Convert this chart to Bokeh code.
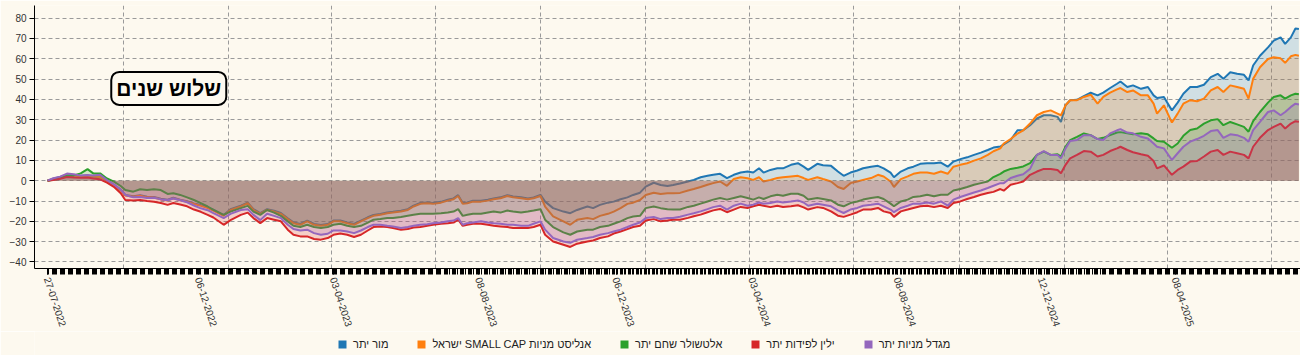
import pandas as pd
from bokeh.plotting import figure
from bokeh.layouts import column
from bokeh.models import (Range1d, FixedTicker, DatetimeTickFormatter, Legend, LegendItem, Label)
from bokeh.embed import file_html
from bokeh.resources import INLINE

START = "2022-07-27"
day_offset = [0, 5, 11, 17, 23, 29, 35, 40, 46, 52, 58, 64, 68, 75, 81, 87, 93, 99, 105, 110,
              116, 122, 128, 134, 140, 145, 154, 160, 169, 175, 180, 186, 192, 198, 204, 210, 215, 221, 227, 233,
              239, 245, 250, 256, 262, 268, 274, 280, 285, 291, 297, 302, 309, 315, 320, 326, 332, 337, 344, 350,
              355, 359, 363, 367, 372, 379, 385, 390, 396, 402, 407, 414, 420, 425, 431, 435, 442, 451, 457, 463,
              472, 477, 483, 490, 495, 501, 507, 512, 518, 523, 530, 536, 542, 547, 553, 560, 565, 571, 577, 582,
              588, 594, 600, 606, 612, 617, 622, 626, 632, 638, 643, 650, 656, 661, 665, 673, 678, 685, 691, 696,
              702, 708, 713, 720, 726, 731, 737, 740, 746, 752, 757, 763, 769, 775, 781, 787, 792, 798, 804, 810,
              816, 822, 827, 833, 836, 842, 848, 853, 859, 865, 871, 877, 883, 886, 890, 894, 900, 906, 912, 918,
              923, 929, 935, 938, 944, 949, 956, 962, 967, 970, 976, 983, 988, 993, 999, 1005, 1011, 1017, 1023, 1028,
              1034, 1040, 1046, 1050, 1054, 1060, 1067, 1072, 1078, 1082, 1087, 1091, 1094]

mor = [0, 1.0, 1.8, 2.6, 2.8, 2.3, 2.5, 2.0, 2.0, 0.2, -2.0, -4.4, -7.0, -7.6, -7.1, -7.9, -8.0, -8.9, -9.4, -8.4,
       -9.3, -10.1, -11.2, -12.0, -13.1, -14.3, -16.9, -14.0, -12.3, -10.8, -14.0, -15.9, -14.0, -14.8, -15.9, -18.5, -20.5, -21.3, -19.6, -21.3,
       -21.8, -21.3, -19.6, -19.6, -20.5, -21.3, -19.6, -18.0, -16.9, -16.4, -15.6, -15.3, -14.8, -14.0, -12.3, -11.0, -10.7, -11.0, -10.4, -9.4,
       -8.7, -7.1, -11.0, -10.7, -9.9, -9.9, -9.4, -8.7, -8.2, -7.1, -7.8, -8.2, -8.7, -8.2, -7.0, -10.3, -13.5, -15.2, -16.0, -14.4,
       -12.7, -13.5, -11.9, -10.8, -10.3, -9.1, -8.2, -7.0, -5.9, -2.9, -1.0, -2.1, -2.6, -2.1, -1.4, -0.4, 0.4, 1.7, 2.4, 2.9,
       3.4, 1.3, 2.9, 4.0, 4.5, 4.0, 6.1, 4.0, 5.3, 6.1, 6.1, 7.8, 8.6, 6.9, 5.3, 8.3, 7.6, 7.3, 4.5, 2.4,
       4.0, 5.0, 6.1, 6.9, 7.3, 6.1, 4.0, 1.7, 4.5, 6.1, 6.9, 8.3, 8.6, 8.6, 8.9, 6.9, 9.4, 10.6, 11.5, 12.7,
       13.8, 15.1, 16.3, 16.8, 17.9, 20.0, 24.8, 24.8, 27.3, 30.6, 32.2, 32.2, 31.4, 28.9, 37.1, 39.6, 39.8, 41.6, 43.3, 42.0,
       43.3, 45.6, 47.7, 48.8, 46.1, 46.9, 45.2, 46.1, 42.0, 40.7, 41.2, 34.6, 38.4, 42.8, 46.1, 46.1, 47.2, 51.0, 52.6, 50.1,
       53.4, 52.6, 52.1, 49.3, 56.7, 61.5, 65.6, 68.9, 70.5, 67.3, 70.5, 74.9, 74.6]

analyst = [0, 0.8, 1.6, 2.4, 2.6, 2.2, 2.4, 1.9, 1.8, 0.0, -2.2, -4.8, -7.3, -7.9, -7.4, -8.2, -8.3, -9.2, -9.7, -8.7,
           -9.6, -10.4, -11.5, -12.4, -13.5, -14.7, -17.3, -14.4, -12.7, -11.1, -14.4, -16.3, -14.4, -15.2, -16.3, -18.9, -20.9, -21.7, -20.0, -21.7,
           -22.2, -21.7, -20.0, -20.0, -20.9, -21.7, -20.0, -18.4, -17.3, -16.8, -16.0, -15.7, -15.2, -14.4, -12.7, -11.4, -11.1, -11.4, -10.8, -9.8,
           -9.1, -7.5, -11.4, -11.1, -10.3, -10.3, -9.8, -9.1, -8.6, -7.5, -8.2, -8.6, -9.1, -8.6, -7.5, -12.7, -17.6, -20.0, -21.7, -19.2,
           -18.4, -18.9, -17.3, -16.3, -15.2, -13.5, -11.4, -10.8, -9.5, -7.0, -5.9, -6.5, -6.2, -6.2, -6.0, -4.8, -4.1, -3.1, -2.0, -1.2,
           -0.4, -2.5, 0.8, 1.7, 1.2, 0.4, 1.7, -0.4, 0.4, 1.3, 1.7, 2.1, 2.4, 1.3, 0.4, 1.7, 0.8, -0.4, -3.1, -4.1,
           -1.2, -0.4, 0.4, 1.3, 2.9, 2.1, -0.4, -3.1, 0.8, 2.1, 3.4, 4.0, 4.0, 3.4, 4.5, 3.4, 6.9, 7.8, 8.6, 9.9,
           11.0, 12.7, 14.5, 15.9, 18.3, 20.5, 23.2, 24.8, 28.1, 32.2, 33.8, 34.6, 33.0, 32.2, 37.1, 39.6, 39.6, 41.2, 42.3, 37.9,
           41.2, 43.3, 44.9, 45.6, 43.6, 44.4, 42.0, 42.0, 37.9, 33.0, 37.1, 28.6, 33.0, 37.9, 39.6, 39.1, 40.4, 44.4, 46.1, 43.6,
           46.9, 46.1, 45.2, 40.4, 50.1, 55.8, 59.9, 60.7, 60.2, 58.0, 61.2, 61.9, 61.5]

altshuler = [0, 0.5, 1.2, 2.5, 2.6, 3.6, 5.7, 3.6, 3.6, 1.1, -0.5, -2.6, -4.6, -5.4, -4.2, -4.6, -4.2, -4.6, -6.5, -6.2,
             -7.0, -8.2, -9.5, -11.0, -12.7, -14.4, -16.8, -15.2, -13.5, -12.4, -15.2, -16.8, -14.4, -15.7, -17.3, -20.0, -22.2, -22.8, -21.7, -22.8,
             -23.3, -22.8, -21.7, -21.2, -22.2, -22.8, -22.2, -20.6, -19.2, -18.9, -18.4, -18.4, -17.9, -17.3, -16.8, -16.3, -16.3, -16.3, -16.0, -15.7,
             -15.2, -14.0, -17.3, -16.8, -16.3, -16.3, -15.7, -15.2, -15.7, -14.7, -15.2, -15.7, -15.2, -14.7, -14.0, -19.2, -22.8, -25.4, -26.6, -25.0,
             -24.1, -24.1, -22.8, -22.2, -21.2, -20.0, -18.4, -17.6, -17.3, -13.5, -12.7, -13.5, -14.0, -14.2, -14.2, -12.9, -12.3, -11.3, -10.2, -9.3,
             -8.5, -9.3, -8.5, -7.7, -8.5, -9.3, -8.2, -9.0, -7.7, -6.9, -7.4, -6.4, -6.4, -7.4, -9.3, -8.5, -9.0, -9.7, -11.8, -12.6,
             -11.0, -10.2, -9.3, -8.5, -8.0, -9.0, -11.3, -12.6, -10.2, -9.3, -8.0, -7.7, -6.9, -7.7, -6.9, -6.9, -4.8, -4.1, -3.1, -2.0,
             -1.2, -0.4, 1.8, 3.4, 4.5, 5.8, 6.4, 7.0, 8.6, 12.7, 14.3, 12.7, 13.0, 11.9, 16.7, 20.0, 21.6, 23.3, 22.4, 20.5,
             21.1, 22.4, 23.7, 23.9, 23.3, 22.8, 23.3, 22.8, 20.8, 19.5, 19.2, 16.2, 18.3, 22.1, 24.9, 25.7, 28.1, 29.7, 30.3, 27.3,
             28.9, 27.7, 26.5, 24.1, 29.3, 33.8, 38.4, 41.2, 42.0, 40.4, 42.0, 42.8, 42.5]

yelin = [0, 0.3, 1.0, 1.8, 1.6, 1.5, 1.6, 1.1, 0.7, -1.0, -3.0, -6.2, -9.5, -9.8, -9.5, -10.0, -10.4, -11.0, -11.9, -11.0,
         -11.7, -12.6, -14.2, -15.3, -16.8, -18.1, -21.7, -19.4, -16.8, -15.7, -18.4, -20.9, -18.4, -19.2, -20.0, -24.1, -26.6, -27.4, -27.4, -28.7,
         -29.0, -28.2, -26.6, -26.0, -26.6, -27.7, -26.6, -24.5, -22.8, -22.5, -22.8, -23.3, -24.1, -23.8, -23.0, -22.8, -22.2, -21.7, -21.2, -20.9,
         -20.6, -19.2, -22.2, -21.7, -21.2, -21.2, -21.7, -22.2, -22.5, -22.8, -23.3, -23.3, -23.3, -22.8, -21.7, -26.6, -29.9, -31.5, -32.6, -31.0,
         -29.9, -29.4, -28.2, -27.4, -26.0, -25.0, -23.8, -22.8, -22.2, -19.6, -18.9, -20.0, -19.6, -19.2, -19.2, -18.3, -17.5, -16.7, -15.5, -14.6,
         -13.9, -15.5, -14.2, -12.9, -13.4, -12.6, -11.8, -12.3, -13.0, -12.3, -12.9, -12.6, -12.1, -13.1, -14.2, -13.0, -13.4, -15.1, -17.2, -17.8,
         -16.7, -15.5, -14.2, -14.2, -13.4, -15.1, -15.9, -17.8, -15.1, -14.2, -13.4, -12.6, -12.3, -13.0, -12.3, -13.4, -11.0, -10.2, -9.0, -8.0,
         -6.9, -6.1, -5.5, -4.1, -4.9, -2.0, -1.2, -0.4, 2.9, 4.5, 5.8, 5.8, 5.3, 3.7, 7.8, 11.0, 12.7, 14.6, 14.3, 11.9,
         12.7, 14.6, 15.9, 16.7, 15.1, 14.0, 13.0, 12.3, 9.7, 6.1, 7.5, 2.9, 5.3, 6.9, 9.4, 9.7, 11.9, 14.3, 15.1, 12.7,
         14.3, 13.5, 12.7, 11.0, 16.7, 21.1, 24.9, 26.5, 28.1, 25.7, 28.1, 29.3, 29.0]

migdal = [0, 1.2, 2.0, 3.5, 3.2, 2.5, 2.8, 2.6, 2.9, 0.3, -1.8, -4.5, -7.0, -8.2, -8.0, -8.5, -8.4, -9.2, -9.6, -8.8,
          -9.6, -10.6, -12.2, -13.6, -14.5, -16.0, -18.4, -16.3, -14.4, -14.0, -16.8, -19.4, -16.3, -17.3, -18.4, -21.7, -23.8, -24.5, -24.1, -25.8,
          -26.6, -26.1, -24.5, -24.5, -25.0, -25.8, -24.5, -22.8, -21.7, -21.7, -22.2, -22.5, -23.3, -22.8, -22.2, -21.7, -21.4, -20.9, -20.6, -20.0,
          -19.6, -18.4, -21.7, -20.9, -20.6, -20.0, -20.6, -20.9, -21.2, -21.7, -21.7, -22.2, -22.2, -21.2, -20.0, -24.1, -28.2, -29.9, -30.6, -29.0,
          -28.2, -27.7, -26.6, -25.8, -25.0, -24.1, -22.8, -21.7, -20.6, -18.4, -17.9, -18.9, -18.4, -18.4, -17.7, -16.7, -16.0, -15.1, -14.0, -13.0,
          -12.3, -14.2, -12.3, -11.3, -12.3, -11.8, -10.7, -11.3, -11.0, -10.2, -10.7, -10.2, -9.7, -10.7, -12.3, -11.3, -11.8, -12.6, -14.6, -15.9,
          -14.2, -13.4, -12.3, -11.8, -11.3, -12.6, -14.2, -15.5, -13.4, -12.3, -11.3, -11.3, -10.7, -11.3, -10.2, -12.3, -9.3, -8.0, -6.9, -5.8,
          -4.8, -3.6, -2.5, -1.2, -1.2, 1.3, 2.4, 3.2, 5.8, 12.7, 14.6, 12.7, 12.7, 11.0, 15.9, 19.5, 20.0, 22.4, 22.4, 20.5,
          20.0, 23.3, 24.8, 25.4, 23.7, 23.3, 21.6, 20.8, 18.3, 16.7, 15.9, 10.2, 13.5, 16.7, 19.2, 20.5, 22.1, 24.4, 24.9, 21.1,
          22.8, 22.4, 21.1, 19.2, 24.9, 28.9, 33.8, 34.6, 32.2, 33.8, 36.3, 37.9, 37.5]

series_names = ["מור יתר", "ישראל SMALL CAP אנליסט מניות", "אלטשולר שחם יתר", "ילין לפידות יתר", "מגדל מניות יתר"]
series_values = [mor, analyst, altshuler, yelin, migdal]
series_colors = ["#1f77b4", "#ff7f0e", "#2ca02c", "#d62728", "#9467bd"]

tick_labels = ["27-07-2022", "06-12-2022", "03-04-2023", "08-08-2023", "06-12-2023",
               "03-04-2024", "08-08-2024", "12-12-2024", "08-04-2025"]
grid_dates = ["2022-10-01", "2023-01-01", "2023-04-01", "2023-07-01", "2023-10-01", "2024-01-01",
              "2024-04-01", "2024-07-01", "2024-10-01", "2025-01-01", "2025-04-01", "2025-07-01"]
y_ticks = [-40, -30, -20, -10, 0, 10, 20, 30, 40, 50, 60, 70, 80]
title_text = "שלוש שנים"

BG = "#fdf9ef"
FONT = "Liberation Sans"

def ms(ts):
    return pd.Timestamp(ts).value / 1e6

dates = pd.Timestamp(START) + pd.to_timedelta(day_offset, unit="D")

p = figure(width=1300, height=331, output_backend="svg", toolbar_location=None,
           x_axis_type="datetime",
           x_range=Range1d(pd.Timestamp("2022-07-15 15:00"), pd.Timestamp("2025-07-26 10:00")),
           y_range=Range1d(-43.2, 86.2),
           min_border_left=34, min_border_right=0, min_border_top=5, min_border_bottom=62)
p.background_fill_color = BG
p.border_fill_color = BG
p.outline_line_color = None

for vals, col in zip(series_values, series_colors):
    p.varea(x=dates, y1=0, y2=vals, fill_color=col, fill_alpha=0.2)
    p.line(x=dates, y=vals, line_color=col, line_width=2)

# axes
label_ts = pd.to_datetime(tick_labels, format="%d-%m-%Y")
trading_days = pd.bdate_range("2022-07-27", "2025-07-25", freq="C", weekmask="Sun Mon Tue Wed Thu")
xa = p.xaxis[0]
xa.ticker = FixedTicker(ticks=[ms(t) for t in label_ts], minor_ticks=[ms(t) for t in trading_days])
fmt = "%d-%m-%Y"
xa.formatter = DatetimeTickFormatter(microseconds=fmt, milliseconds=fmt, seconds=fmt, minsec=fmt,
                                     minutes=fmt, hourmin=fmt, hours=fmt, days=fmt, months=fmt, years=fmt)
xa.major_label_orientation = -1.25
xa.major_tick_out = 6
xa.major_tick_in = 0
xa.minor_tick_out = 6
xa.minor_tick_in = 0
xa.major_tick_line_color = "black"
xa.minor_tick_line_color = "black"
xa.axis_line_color = "black"
xa.major_label_text_font = FONT
xa.major_label_text_font_size = "10px"
xa.major_label_text_color = "#333333"
xa.major_label_standoff = 3

ya = p.yaxis[0]
ya.ticker = FixedTicker(ticks=y_ticks)
ya.major_tick_out = 5
ya.major_tick_in = 0
ya.minor_tick_line_color = None
ya.axis_line_color = "black"
ya.major_label_text_font = FONT
ya.major_label_text_font_size = "10px"
ya.major_label_text_color = "#333333"
ya.major_label_standoff = 3

p.xgrid.ticker = FixedTicker(ticks=[ms(d) for d in grid_dates])
for g in (p.xgrid[0], p.ygrid[0]):
    g.grid_line_color = "#9a9a9a"
    g.grid_line_dash = "4 3"
    g.grid_line_width = 1

title = Label(x=pd.Timestamp("2022-11-10"), y=45.4, text=title_text,
              text_align="center", text_baseline="middle",
              text_font=FONT, text_font_size="21px", text_font_style="bold", text_color="black",
              background_fill_color=BG, border_line_color="black", border_line_width=2,
              padding=5, border_radius=8)
p.add_layout(title)

# legend strip below the chart
lf = figure(width=1300, height=24, output_backend="svg", toolbar_location=None,
            x_range=Range1d(0, 1), y_range=Range1d(0, 1),
            x_axis_location=None, y_axis_location=None,
            min_border_left=0, min_border_right=0, min_border_top=0, min_border_bottom=0)
lf.grid.visible = False
lf.background_fill_color = BG
lf.border_fill_color = BG
lf.outline_line_color = None
items = []
for name, col in zip(series_names, series_colors):
    sq = lf.quad(left=[5], right=[6], top=[5], bottom=[4], fill_color=col, line_color=None)
    items.append(LegendItem(label=name, renderers=[sq]))
legend = Legend(items=items, orientation="horizontal", location=(303, 5),
                glyph_width=10, glyph_height=10, label_standoff=6, spacing=28,
                padding=0, margin=0, border_line_color=None, background_fill_alpha=0,
                label_text_font=FONT, label_text_font_size="11px", label_text_color="#222222",
                label_height=10)
lf.add_layout(legend, "center")

open("out.html", "w").write(file_html(column(p, lf, spacing=0), INLINE))
